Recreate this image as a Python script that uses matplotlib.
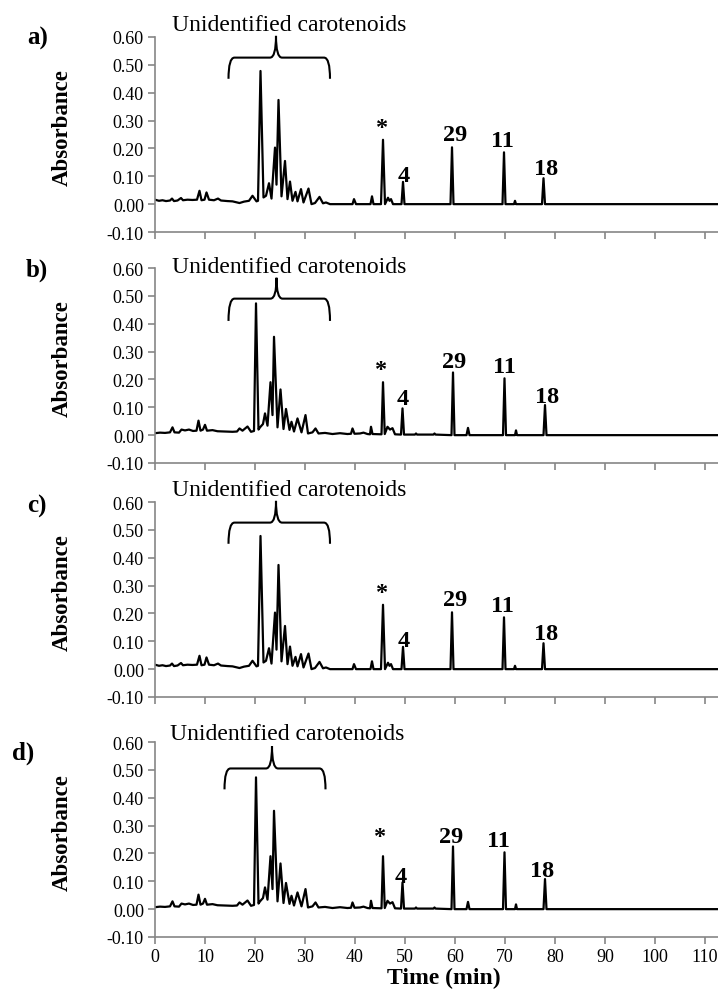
import matplotlib
matplotlib.use("Agg")
import matplotlib.pyplot as plt
from matplotlib.path import Path
from matplotlib.patches import PathPatch

plt.rcParams['font.family'] = ['Liberation Serif', 'DejaVu Serif']

# Chromatogram for samples a) and c): retention time (min) and absorbance
time_ac = [0.0, 0.8, 1.5, 2.2, 3.0, 3.4, 3.8, 4.5, 5.2, 5.6, 6.5, 7.5, 8.4, 8.9, 9.3,
           9.9, 10.3, 10.8, 11.8, 12.6, 13.2, 14.5, 15.5, 16.9, 17.8, 18.8, 19.5, 20.3,
           20.6, 21.1, 21.7, 22.2, 22.8, 23.3, 24.0, 24.3, 24.7, 25.3, 26.0, 26.5, 27.0,
           27.5, 28.1, 28.5, 29.2, 29.7, 30.7, 31.3, 32.0, 32.9, 33.6, 34.2, 35.0, 39.5,
           39.8, 40.2, 43.1, 43.4, 43.7, 45.2, 45.6, 46.0, 46.6, 46.9, 47.2, 47.6, 49.3,
           49.6, 49.9, 59.1, 59.4, 59.7, 69.5, 69.8, 70.1, 71.8, 72.0, 72.2, 77.4, 77.7,
           78.0, 113.0]
abs_ac = [0.016, 0.012, 0.014, 0.011, 0.013, 0.020, 0.011, 0.013, 0.022, 0.014, 0.016,
          0.015, 0.016, 0.048, 0.014, 0.016, 0.042, 0.016, 0.014, 0.020, 0.013, 0.011,
          0.010, 0.004, 0.009, 0.012, 0.030, 0.010, 0.012, 0.478, 0.024, 0.030, 0.075,
          0.020, 0.203, 0.070, 0.374, 0.028, 0.155, 0.018, 0.081, 0.012, 0.044, 0.010,
          0.054, 0.006, 0.056, 0.000, 0.004, 0.026, 0.003, 0.006, 0.000, 0.000, 0.018,
          0.000, 0.000, 0.028, 0.000, 0.000, 0.231, 0.000, 0.023, 0.012, 0.018, 0.000,
          0.000, 0.080, 0.000, 0.000, 0.204, 0.000, 0.000, 0.186, 0.000, 0.000, 0.012,
          0.000, 0.000, 0.093, 0.000, 0.000]

# Chromatogram for samples b) and d)
time_bd = [0.0, 1.0, 2.0, 3.0, 3.5, 3.9, 4.8, 5.3, 6.0, 6.8, 7.6, 8.3, 8.7, 9.1, 9.6,
           10.0, 10.4, 11.5, 12.5, 14.0, 15.5, 16.4, 16.9, 17.5, 18.5, 19.2, 19.8, 20.2,
           20.7, 21.0, 21.6, 22.0, 22.5, 23.1, 23.5, 23.8, 24.5, 25.1, 25.7, 26.2, 26.9,
           27.3, 27.8, 28.5, 29.3, 30.1, 30.6, 31.5, 32.1, 32.7, 34.0, 35.5, 37.0, 38.5,
           39.2, 39.5, 39.9, 41.0, 41.7, 42.5, 43.0, 43.2, 43.5, 45.3, 45.6, 45.95, 46.5,
           47.0, 47.5, 48.0, 49.2, 49.5, 49.8, 52.0, 52.2, 52.4, 55.7, 55.9, 56.1, 59.3,
           59.6, 59.9, 62.3, 62.6, 62.9, 69.6, 69.9, 70.2, 72.0, 72.2, 72.4, 77.7, 78.0,
           78.3, 113.0]
abs_bd = [0.007, 0.009, 0.008, 0.010, 0.028, 0.010, 0.009, 0.020, 0.017, 0.020, 0.015,
          0.016, 0.052, 0.016, 0.020, 0.037, 0.016, 0.018, 0.014, 0.013, 0.012, 0.013,
          0.024, 0.016, 0.031, 0.012, 0.015, 0.473, 0.020, 0.028, 0.040, 0.078, 0.034,
          0.190, 0.072, 0.353, 0.028, 0.164, 0.022, 0.094, 0.019, 0.048, 0.013, 0.060,
          0.010, 0.072, 0.006, 0.010, 0.024, 0.006, 0.008, 0.004, 0.007, 0.004, 0.005,
          0.024, 0.005, 0.006, 0.009, 0.004, 0.003, 0.030, 0.004, 0.003, 0.190, 0.004,
          0.030, 0.020, 0.025, 0.003, 0.002, 0.096, 0.002, 0.002, 0.006, 0.002, 0.002,
          0.006, 0.002, 0.000, 0.225, 0.000, 0.000, 0.026, 0.000, 0.000, 0.204, 0.000,
          0.000, 0.017, 0.000, 0.000, 0.108, 0.000, 0.000]

panel_letters = ['a)', 'b)', 'c)', 'd)']
peak_names = ['*', '4', '29', '11', '18']
x_ticks = list(range(0, 111, 10))
y_ticks = [-0.10, 0.00, 0.10, 0.20, 0.30, 0.40, 0.50, 0.60]

AXIS_GREY = '#868686'
FIG_W, FIG_H = 718, 995

# Axes placement in pixels: (top edge, bottom edge)
panel_px = [(38, 233), (269, 464), (503, 698), (743, 938)]
LEFT_PX = 155
AX_W = FIG_W - LEFT_PX

# Panel letter anchors in pixels (left x, centre y)
letter_px = [(27, 38), (26, 270), (27, 506), (12, 753)]

# Per-panel annotation placement: peak labels (x, y), brace (x0, xm, x1, y_tip, y_h, y_top), title
peak_label_pos = [
    [(45.5, 0.275), (49.75, 0.104), (60.0, 0.25), (69.4, 0.23), (78.3, 0.128)],
    [(45.2, 0.235), (49.6, 0.13), (59.8, 0.265), (69.8, 0.245), (78.4, 0.14)],
    [(45.5, 0.275), (49.75, 0.104), (60.0, 0.25), (69.4, 0.23), (78.3, 0.128)],
    [(45.0, 0.26), (49.1, 0.118), (59.3, 0.26), (68.7, 0.245), (77.5, 0.14)],
]
brace_pos = [
    (14.7, 24.2, 35.0, 0.45, 0.526, 0.604),
    (14.7, 24.3, 35.0, 0.41, 0.49, 0.565),
    (14.7, 24.2, 35.0, 0.45, 0.526, 0.604),
    (13.9, 23.4, 34.1, 0.43, 0.505, 0.585),
]
title_pos = [(26.8, 0.645), (26.8, 0.605), (26.8, 0.645), (26.5, 0.63)]
traces = [(time_ac, abs_ac), (time_bd, abs_bd), (time_ac, abs_ac), (time_bd, abs_bd)]


def brace(ax, x0, xm, x1, yt, yh, ytop, dx=1.2):
    verts = [(x0, yt), (x0, yh), (x0 + dx, yh),
             (xm - dx, yh), (xm, yh), (xm, ytop),
             (xm, yh), (xm + dx, yh),
             (x1 - dx, yh), (x1, yh), (x1, yt)]
    codes = [Path.MOVETO, Path.CURVE3, Path.CURVE3,
             Path.LINETO, Path.CURVE3, Path.CURVE3,
             Path.CURVE3, Path.CURVE3,
             Path.LINETO, Path.CURVE3, Path.CURVE3]
    ax.add_patch(PathPatch(Path(verts, codes), fill=False, lw=1.5,
                           edgecolor='black', clip_on=False))


fig = plt.figure(figsize=(FIG_W / 100, FIG_H / 100), dpi=100)

for i, (top, bot) in enumerate(panel_px):
    ax = fig.add_axes([LEFT_PX / FIG_W, 1 - bot / FIG_H,
                       AX_W / FIG_W, (bot - top) / FIG_H])
    t, a = traces[i]
    ax.plot(t, a, color='black', lw=1.6, solid_joinstyle='round')
    ax.set_xlim(0, 112.6)
    ax.set_ylim(-0.10, 0.60)
    ax.set_xticks(x_ticks)
    ax.set_yticks(y_ticks)
    ax.set_yticklabels([f'{v:.2f}' for v in y_ticks])
    for side in ('top', 'right'):
        ax.spines[side].set_visible(False)
    for side in ('left', 'bottom'):
        ax.spines[side].set_color(AXIS_GREY)
        ax.spines[side].set_linewidth(1.2)
    ax.tick_params(axis='both', direction='out', length=5, width=1.2,
                   color=AXIS_GREY, labelsize=13, labelcolor='black', pad=3)
    if i < 3:
        ax.tick_params(axis='x', labelbottom=False)
    else:
        ax.set_xlabel('Time (min)', fontsize=17, fontweight='bold')
        ax.xaxis.set_label_coords((444 - LEFT_PX) / AX_W, -(968 - bot) / (bot - top))
    ax.set_ylabel('Absorbance', fontsize=16.5, fontweight='bold')
    ax.yaxis.set_label_coords((73 - LEFT_PX) / AX_W, 0.54)

    for name, (px, py) in zip(peak_names, peak_label_pos[i]):
        ax.text(px, py, name, ha='center', va='center', fontsize=17.5,
                fontweight='bold')
    brace(ax, *brace_pos[i])
    tx, ty = title_pos[i]
    ax.text(tx, ty, 'Unidentified carotenoids', ha='center', va='center',
            fontsize=17, clip_on=False)
    lx, ly = letter_px[i]
    fig.text(lx / FIG_W, 1 - ly / FIG_H, panel_letters[i], ha='left',
             va='center', fontsize=18, fontweight='bold')

fig.savefig('out.png', dpi=100)
